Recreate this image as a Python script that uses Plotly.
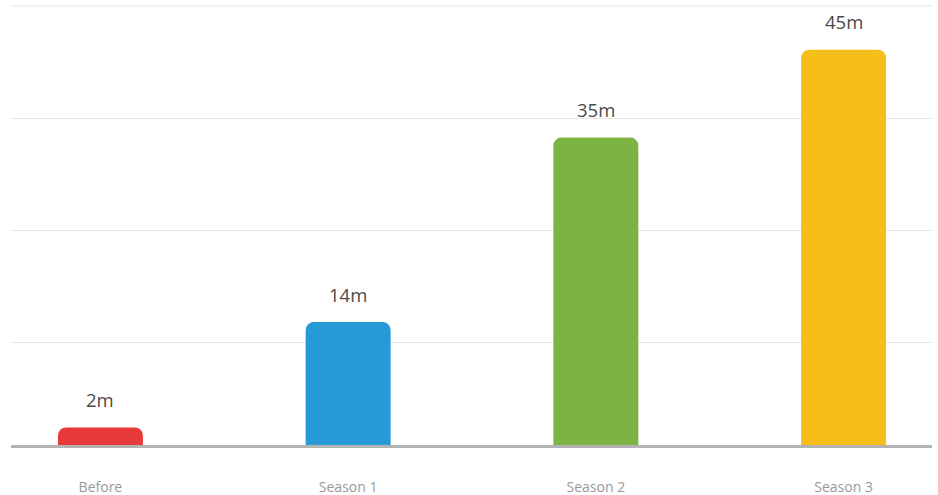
import plotly.graph_objects as go

categories = ["Before", "Season 1", "Season 2", "Season 3"]
values = [2, 14, 35, 45]
value_labels = ["2m", "14m", "35m", "45m"]
colors = ["#e83a3a", "#2699d6", "#7cb342", "#f7be1a"]
grid_values = [11.62, 24.37, 37.13, 50]

fig = go.Figure()
fig.add_trace(go.Bar(
    x=list(range(len(categories))),
    y=values,
    width=0.343,
    marker=dict(color=colors, cornerradius=8, line=dict(width=0)),
    hoverinfo="skip",
))

for i, (v, t) in enumerate(zip(values, value_labels)):
    fig.add_annotation(x=i, y=v, text=t, showarrow=False, yanchor="middle",
                       yshift=28, font=dict(family="Open Sans", size=18.5, color="#4a4a4a"))

# top grid line (at the upper edge of the plot area)
fig.add_shape(type="line", xref="paper", yref="y", x0=0, x1=1,
              y0=grid_values[-1], y1=grid_values[-1],
              line=dict(color="#e6e6e6", width=1), layer="below")

fig.update_layout(
    width=938, height=495,
    margin=dict(l=11, r=6, t=5, b=50, pad=0),
    paper_bgcolor="white", plot_bgcolor="white",
    showlegend=False,
    font=dict(family="Open Sans"),
    xaxis=dict(
        range=[-0.361, 3.357], automargin=False,
        tickmode="array", tickvals=list(range(len(categories))), ticktext=categories,
        tickfont=dict(size=14, color="#999999"),
        showgrid=False, zeroline=False,
        showline=True, linecolor="#b3b3b3", linewidth=3,
        ticks="outside", ticklen=27, tickcolor="rgba(0,0,0,0)",
    ),
    yaxis=dict(
        range=[0, 50.1], automargin=False,
        tickmode="array", tickvals=grid_values,
        showticklabels=False, showgrid=True, gridcolor="#e6e6e6", gridwidth=1,
        zeroline=False,
    ),
)

fig.write_html("out.html", config={"displayModeBar": False},
               post_script="document.body.style.margin='0';document.body.style.overflow='hidden';")
